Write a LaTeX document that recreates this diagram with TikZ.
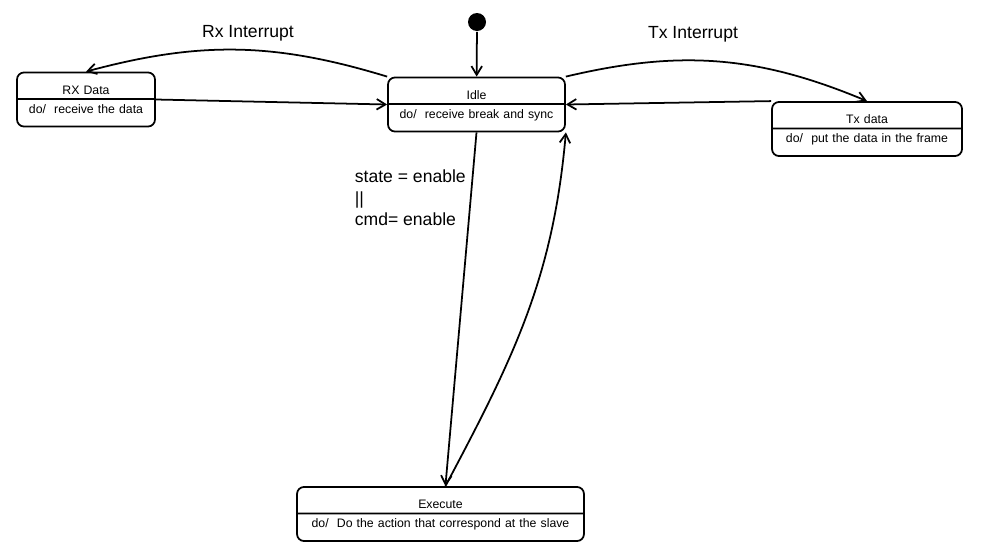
\documentclass[tikz,border=0pt]{standalone}
\usepackage{fontspec}
\setmainfont{Liberation Sans}
\usetikzlibrary{shapes.multipart, arrows.meta}

\newcommand{\titlestrut}{\rule{0pt}{10pt}}
\newcommand{\dostrut}{\rule[-5pt]{0pt}{10.7pt}}

\begin{document}
\begin{tikzpicture}[x=0.02cm, y=0.02cm, line width=1pt,
	state/.style={draw, rounded corners=4pt, rectangle split, rectangle split parts=2, align=center, inner xsep=2pt, inner ysep=2pt, font=\fontsize{7}{8}\selectfont},
	trans/.style={-{Straight Barb[length=5pt, width=6pt]}},
	evtext/.style={font=\fontsize{10}{12.2}\selectfont, inner sep=0pt}]
	\useasboundingbox (0, 0) rectangle (984, -552);

	% Zustaende
	\node[circle, fill, minimum size=0.36cm, inner sep=0pt] (init) at (477, -22) {};
	\node[state, text width=3.40cm] (idle) at (476.5, -104.5) {\titlestrut Idle \nodepart{two} \dostrut do/~ receive break and sync};
	\node[state, text width=2.62cm] (rx) at (86, -99.5) {\titlestrut RX Data \nodepart{two} \dostrut do/~ receive the data};
	\node[state, text width=3.66cm] (tx) at (867, -129) {\titlestrut Tx data \nodepart{two} \dostrut do/~ put the data in the frame};
	\node[state, text width=5.60cm] (exec) at (440.5, -514) {\titlestrut Execute \nodepart{two} \dostrut do/~ Do the action that correspond at the slave};

	% Beschriftungen
	\node[evtext] (rxlbl) at (248, -33) {Rx Interrupt};
	\node[evtext] (txlbl) at (693, -34) {Tx Interrupt};
	\node[evtext, anchor=north west, align=left] (guard) at (354, -169) {state = enable\\||\\cmd= enable};

	% Uebergaenge
	\draw[trans] (init) -- (idle);
	\draw[trans] (idle.north west) to[bend right=16] (rx.north);
	\draw[trans] (rx.east) -- (idle.west);
	\draw[trans] (idle.north east) to[bend left=18] (tx.north);
	\draw[trans] (tx.north west) -- (idle.east);
	\draw[trans] (idle.south) -- (exec.80);
	\draw[trans] (exec.80) to[out=62, in=-95] (idle.south east);
\end{tikzpicture}
\end{document}
